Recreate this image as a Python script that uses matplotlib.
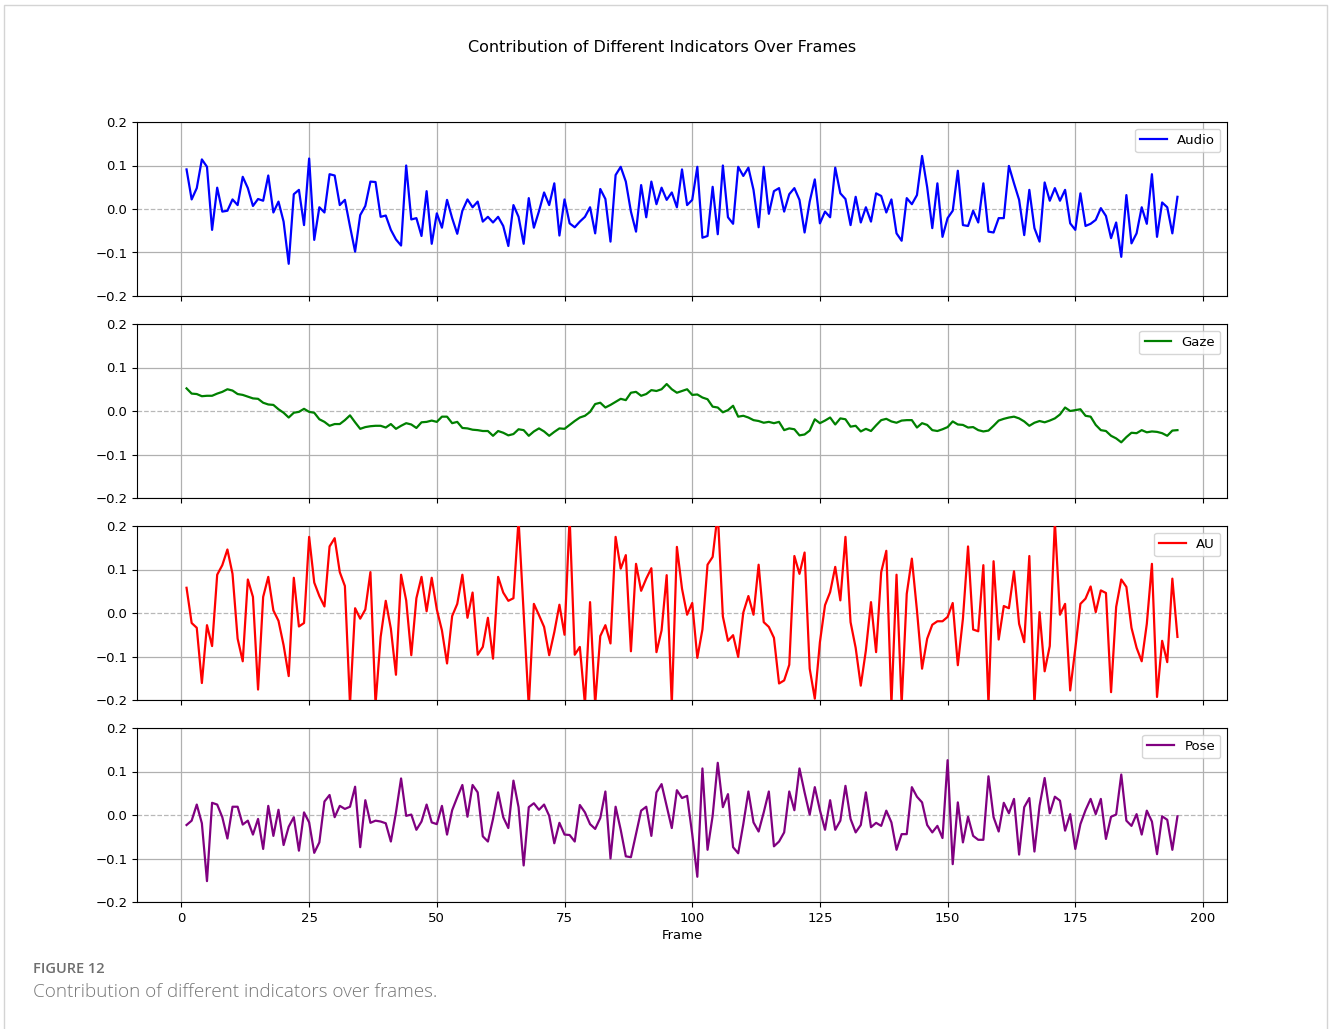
import matplotlib
matplotlib.use("Agg")
import matplotlib.pyplot as plt
from matplotlib.patches import Rectangle
import numpy as np

frames = list(range(1, 196))

audio = [
    0.091, 0.022, 0.048, 0.114, 0.097, -0.048, 0.049, -0.006, -0.004, 0.022,
    0.009, 0.074, 0.048, 0.007, 0.023, 0.019, 0.077, -0.008, 0.017, -0.029,
    -0.126, 0.034, 0.044, -0.037, 0.116, -0.071, 0.004, -0.008, 0.080, 0.077,
    0.009, 0.021, -0.040, -0.098, -0.014, 0.007, 0.063, 0.062, -0.018, -0.015,
    -0.048, -0.070, -0.084, 0.100, -0.024, -0.021, -0.062, 0.041, -0.080, -0.010,
    -0.043, 0.021, -0.021, -0.057, -0.004, 0.022, 0.004, 0.017, -0.029, -0.018,
    -0.031, -0.018, -0.039, -0.085, 0.009, -0.018, -0.080, 0.025, -0.043, -0.005,
    0.038, 0.009, 0.059, -0.061, 0.022, -0.033, -0.042, -0.029, -0.018, 0.004,
    -0.056, 0.046, 0.023, -0.075, 0.078, 0.097, 0.063, -0.006, -0.052, 0.055,
    -0.019, 0.063, 0.011, 0.049, 0.021, 0.038, 0.004, 0.091, 0.009, 0.021,
    0.097, -0.066, -0.062, 0.051, -0.058, 0.100, -0.019, -0.034, 0.097, 0.076,
    0.095, 0.044, -0.042, 0.097, -0.011, 0.041, 0.048, -0.006, 0.034, 0.048,
    0.021, -0.054, 0.017, 0.068, -0.033, -0.006, -0.019, 0.095, 0.036, 0.023,
    -0.037, 0.028, -0.031, 0.004, -0.029, 0.036, 0.030, -0.008, 0.022, -0.056,
    -0.073, 0.025, 0.011, 0.032, 0.122, 0.050, -0.044, 0.059, -0.064, -0.021,
    -0.004, 0.088, -0.037, -0.039, -0.004, -0.031, 0.059, -0.052, -0.054, -0.021,
    -0.021, 0.099, 0.059, 0.021, -0.060, 0.044, -0.044, -0.075, 0.061, 0.019,
    0.048, 0.019, 0.044, -0.033, -0.048, 0.036, -0.039, -0.034, -0.025, 0.002,
    -0.016, -0.067, -0.031, -0.110, 0.032, -0.079, -0.056, 0.004, -0.034, 0.080,
    -0.064, 0.015, 0.004, -0.056, 0.028,
]

gaze = [
    0.052, 0.040, 0.039, 0.034, 0.035, 0.035, 0.040, 0.044, 0.050, 0.047,
    0.039, 0.037, 0.033, 0.029, 0.028, 0.019, 0.015, 0.014, 0.004, -0.004,
    -0.015, -0.004, -0.002, 0.005, -0.002, -0.004, -0.019, -0.025, -0.034, -0.030,
    -0.030, -0.021, -0.010, -0.026, -0.041, -0.037, -0.035, -0.034, -0.034, -0.038,
    -0.030, -0.041, -0.034, -0.028, -0.031, -0.039, -0.026, -0.025, -0.022, -0.025,
    -0.013, -0.013, -0.028, -0.025, -0.039, -0.040, -0.043, -0.044, -0.046, -0.046,
    -0.057, -0.046, -0.050, -0.056, -0.053, -0.042, -0.044, -0.057, -0.047, -0.040,
    -0.047, -0.057, -0.048, -0.040, -0.041, -0.032, -0.023, -0.015, -0.011, -0.002,
    0.016, 0.019, 0.008, 0.014, 0.021, 0.028, 0.025, 0.042, 0.044, 0.035,
    0.039, 0.048, 0.046, 0.050, 0.062, 0.050, 0.042, 0.046, 0.050, 0.037,
    0.038, 0.031, 0.027, 0.010, 0.008, -0.003, 0.002, 0.012, -0.013, -0.011,
    -0.015, -0.021, -0.023, -0.027, -0.025, -0.028, -0.025, -0.044, -0.040, -0.042,
    -0.056, -0.054, -0.045, -0.019, -0.028, -0.022, -0.015, -0.031, -0.017, -0.019,
    -0.036, -0.034, -0.047, -0.041, -0.046, -0.033, -0.021, -0.018, -0.024, -0.027,
    -0.022, -0.021, -0.021, -0.038, -0.028, -0.032, -0.044, -0.046, -0.042, -0.037,
    -0.024, -0.031, -0.032, -0.038, -0.037, -0.044, -0.047, -0.045, -0.034, -0.022,
    -0.018, -0.015, -0.013, -0.017, -0.024, -0.034, -0.027, -0.023, -0.026, -0.022,
    -0.017, -0.008, 0.008, 0.000, 0.002, 0.004, -0.011, -0.013, -0.032, -0.044,
    -0.046, -0.057, -0.063, -0.072, -0.060, -0.050, -0.051, -0.044, -0.049, -0.047,
    -0.048, -0.051, -0.057, -0.045, -0.044,
]

au = [
    0.058, -0.023, -0.034, -0.161, -0.028, -0.076, 0.088, 0.110, 0.146, 0.090,
    -0.059, -0.111, 0.077, 0.037, -0.176, 0.037, 0.083, 0.006, -0.018, -0.074,
    -0.145, 0.081, -0.031, -0.023, 0.175, 0.070, 0.039, 0.015, 0.153, 0.172,
    0.094, 0.062, -0.210, 0.011, -0.013, 0.008, 0.094, -0.210, -0.055, 0.028,
    -0.036, -0.142, 0.088, 0.029, -0.097, 0.034, 0.083, 0.004, 0.081, 0.008,
    -0.040, -0.116, -0.007, 0.021, 0.088, -0.011, 0.047, -0.096, -0.078, -0.011,
    -0.105, 0.083, 0.047, 0.028, 0.034, 0.215, 0.000, -0.215, 0.021, -0.005,
    -0.032, -0.097, -0.044, 0.019, -0.050, 0.220, -0.096, -0.078, -0.210, 0.025,
    -0.210, -0.053, -0.028, -0.070, 0.175, 0.102, 0.133, -0.088, 0.113, 0.051,
    0.079, 0.103, -0.090, -0.040, 0.087, -0.210, 0.152, 0.056, -0.004, 0.023,
    -0.103, -0.038, 0.111, 0.129, 0.230, -0.008, -0.064, -0.051, -0.101, 0.001,
    0.039, -0.004, 0.111, -0.021, -0.032, -0.057, -0.162, -0.155, -0.119, 0.131,
    0.090, 0.139, -0.128, -0.197, -0.067, 0.018, 0.048, 0.106, 0.029, 0.175,
    -0.021, -0.080, -0.167, -0.086, 0.025, -0.090, 0.094, 0.143, -0.210, 0.088,
    -0.210, 0.044, 0.125, 0.006, -0.128, -0.059, -0.027, -0.019, -0.019, -0.009,
    0.023, -0.120, -0.013, 0.153, -0.038, -0.042, 0.110, -0.210, 0.119, -0.061,
    0.016, 0.011, 0.096, -0.025, -0.067, 0.131, -0.210, 0.002, -0.134, -0.076,
    0.210, -0.004, 0.021, -0.178, -0.082, 0.021, 0.033, 0.061, 0.002, 0.052,
    0.046, -0.182, 0.014, 0.077, 0.060, -0.034, -0.080, -0.111, -0.025, 0.113,
    -0.193, -0.064, -0.113, 0.079, -0.055,
]

pose = [
    -0.023, -0.013, 0.024, -0.019, -0.152, 0.028, 0.024, -0.005, -0.054, 0.019,
    0.019, -0.022, -0.013, -0.045, -0.009, -0.078, 0.021, -0.048, 0.012, -0.069,
    -0.027, -0.005, -0.082, 0.006, -0.017, -0.087, -0.063, 0.031, 0.046, -0.005,
    0.021, 0.014, 0.019, 0.065, -0.074, 0.034, -0.018, -0.013, -0.015, -0.019,
    -0.061, 0.006, 0.084, -0.002, 0.001, -0.034, -0.015, 0.024, -0.017, -0.021,
    0.021, -0.045, 0.011, 0.041, 0.069, -0.004, 0.069, 0.052, -0.049, -0.061,
    -0.009, 0.052, -0.005, -0.030, 0.079, 0.018, -0.116, 0.018, 0.027, 0.012,
    0.024, -0.002, -0.065, -0.018, -0.045, -0.046, -0.061, 0.023, 0.006, -0.021,
    -0.032, -0.007, 0.054, -0.100, 0.019, -0.034, -0.095, -0.097, -0.044, 0.010,
    0.019, -0.048, 0.052, 0.071, 0.021, -0.030, 0.057, 0.039, 0.044, -0.044,
    -0.142, 0.107, -0.080, -0.002, 0.120, 0.018, 0.048, -0.074, -0.088, -0.021,
    0.054, -0.017, -0.038, 0.006, 0.054, -0.072, -0.061, -0.040, 0.054, 0.011,
    0.107, 0.052, 0.001, 0.064, 0.011, -0.034, 0.034, -0.034, -0.013, 0.067,
    -0.009, -0.040, -0.023, 0.052, -0.028, -0.018, -0.025, 0.010, -0.017, -0.080,
    -0.044, -0.044, 0.064, 0.042, 0.029, -0.023, -0.040, -0.025, -0.053, 0.126,
    -0.113, 0.029, -0.063, -0.004, -0.048, -0.057, -0.057, 0.089, -0.005, -0.038,
    0.028, 0.004, 0.037, -0.091, 0.018, 0.039, -0.084, 0.021, 0.085, 0.004,
    0.042, 0.033, -0.036, 0.002, -0.078, -0.021, 0.011, 0.037, 0.002, 0.037,
    -0.055, -0.004, 0.001, 0.093, -0.013, -0.025, 0.002, -0.045, 0.010, -0.015,
    -0.090, -0.003, -0.011, -0.080, -0.003,
]

series_names = ["Audio", "Gaze", "AU", "Pose"]
series_colors = ["blue", "green", "red", "purple"]
series_values = [audio, gaze, au, pose]
y_ticks = [-0.2, -0.1, 0.0, 0.1, 0.2]
y_ticklabels = ["\u22120.2", "\u22120.1", "0.0", "0.1", "0.2"]
x_ticks = [0, 25, 50, 75, 100, 125, 150, 175, 200]

W, H = 1330, 1029
fig = plt.figure(figsize=(W / 100, H / 100), dpi=100)
fig.patch.set_facecolor("white")

left = 137 / W
width = (1227 - 137) / W
tops = [122, 324, 526, 728]
ph = 174

axes = []
for i, (name, col, vals) in enumerate(zip(series_names, series_colors, series_values)):
    bottom = 1 - (tops[i] + ph) / H
    if axes:
        ax = fig.add_axes([left, bottom, width, ph / H], sharex=axes[0])
    else:
        ax = fig.add_axes([left, bottom, width, ph / H])
    axes.append(ax)
    ax.plot(frames, vals, color=col, linewidth=1.6, label=name, zorder=3)
    ax.set_ylim(-0.2, 0.2)
    ax.set_yticks(y_ticks)
    ax.set_yticklabels(y_ticklabels)
    ax.grid(True, color="#b0b0b0", linewidth=0.9)
    # hide the solid grid line at zero; a light dashed line replaces it
    for val, gl in zip(y_ticks, ax.get_ygridlines()):
        if val == 0.0:
            gl.set_visible(False)
    ax.axhline(0, color="#b8b8b8", linestyle="--", linewidth=0.9, zorder=2)
    ax.tick_params(labelsize=9.5)
    ax.legend(loc="upper right", fontsize=9.5, framealpha=0.8)
    if i < 3:
        ax.tick_params(labelbottom=False)

axes[0].set_xlim(-8.7, 204.7)
axes[0].set_xticks(x_ticks)
axes[-1].set_xlabel("Frame", fontsize=9.5, labelpad=3)

fig.text(662 / W, 1 - 48 / H, "Contribution of Different Indicators Over Frames",
         ha="center", va="center", fontsize=11.5)

fig.text(33 / W, 1 - 969 / H, "FIGURE 12", ha="left", va="center",
         fontsize=10.5, color="#6e6e6e", family="Open Sans", fontweight="semibold")
fig.text(33 / W, 1 - 992 / H, "Contribution of different indicators over frames.",
         ha="left", va="center", fontsize=13.6, color="#777777", family="Open Sans",
         fontweight="light")

fig.patches.append(Rectangle((4 / W, -0.02), (1327 - 4) / W, 1.02 - 5 / H,
                             transform=fig.transFigure, fill=False,
                             edgecolor="#d4d4d4", linewidth=1.0))

fig.savefig("out.png", dpi=100)
